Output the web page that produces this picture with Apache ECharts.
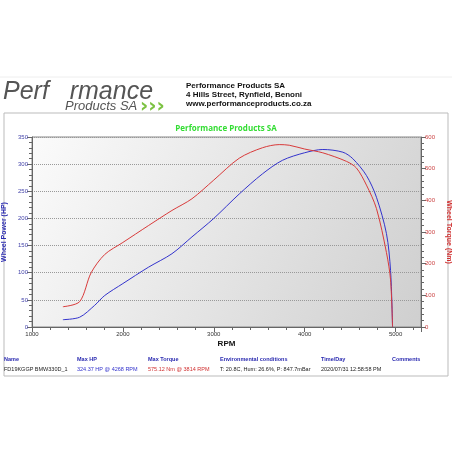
<!DOCTYPE html>
<html><head><meta charset="utf-8">
<script src="https://cdn.jsdelivr.net/npm/echarts@6/dist/echarts.min.js"></script>
<style>html,body{margin:0;padding:0;background:#fff}#c{width:452px;height:452px}</style>
</head><body><div id="c"></div>
<script>
const rpmHP=[1340,1524,1690,1800,2000,2280,2540,2760,3000,3280,3535,3755,4000,4200,4420,4530,4680,4790,4900,4945,4967];
const hp=[13.5,18,40,58,80,110,135,166,200,245,282,307,321,327,322,310,279,239,172,104,0];
const rpmTq=[1340,1524,1650,1800,2000,2280,2540,2760,3000,3280,3535,3720,3830,4000,4200,4460,4570,4680,4790,4900,4945,4967];
const tq=[64,80,171,229,267,320,368,405,464,533,566,576,574,562,550,523,502,448,374,235,149,0];
const tableHeads=['Name','Max HP','Max Torque','Environmental conditions','Time/Day','Comments'];
const tableVals=['FD19KGGP BMW330D_1','324.37 HP @ 4268 RPM','575.12 Nm @ 3814 RPM','T: 20.8C, Hum: 26.6%, P: 847.7mBar','2020/07/31 12:58:58 PM',''];
const colX=[4,77,148,220,321,392];
const valColors=['#222','#3333cc','#d03030','#222','#222','#222'];
const c=echarts.init(document.getElementById('c'));
const g=[
 {type:'rect',shape:{x:4,y:113,width:444,height:263},style:{fill:'none',stroke:'#bbb',lineWidth:1}},
 {type:'line',shape:{x1:0,y1:77,x2:452,y2:77},style:{stroke:'#eee'}},
 {type:'text',left:3,top:80,style:{text:'Perf   rmance',font:'italic 25px Liberation Sans',fill:'#555'}},
 {type:'text',left:65,top:100,style:{text:'Products SA',font:'italic 13px Liberation Sans',fill:'#555'}},
 {type:'text',left:140,top:97,style:{text:'›››',font:'bold 20px DejaVu Sans',fill:'#7cc242'}},
 {type:'text',left:186,top:81,style:{text:'Performance Products SA\n4 Hills Street, Rynfield, Benoni\nwww.performanceproducts.co.za',font:'bold 8px Liberation Sans',fill:'#111',lineHeight:9}},
];
tableHeads.forEach((h,i)=>{g.push({type:'text',left:colX[i],top:356,style:{text:h,font:'bold 5.5px Liberation Sans',fill:'#2a2ab0'}});
 g.push({type:'text',left:colX[i],top:366,style:{text:tableVals[i],font:'5.5px Liberation Sans',fill:valColors[i]}});});
c.setOption({
 animation:false,
 title:{text:'Performance Products SA',left:'center',top:120,textStyle:{color:'#33dd33',fontSize:8,fontWeight:'bold',fontFamily:'Open Sans'}},
 grid:{left:32,right:31,top:137,bottom:125,containLabel:false,outerBoundsMode:'none',show:true,borderColor:'#888',
  backgroundColor:new echarts.graphic.LinearGradient(0,0,1,1,[{offset:0,color:'#fbfbfb'},{offset:1,color:'#cfcfcf'}])},
 graphic:g,
 xAxis:{type:'value',min:1000,max:5280,interval:1000,name:'RPM',nameLocation:'middle',nameGap:13,
  nameTextStyle:{fontWeight:'bold',fontSize:8,color:'#111'},
  axisLine:{lineStyle:{color:'#666'}},axisTick:{lineStyle:{color:'#666'}},minorTick:{show:true,splitNumber:5},
  axisLabel:{fontSize:6,color:'#333',margin:4,formatter:v=>v%1000===0?v:''},splitLine:{show:false}},
 yAxis:[
  {type:'value',min:0,max:350,interval:50,name:'Wheel Power (HP)',nameLocation:'middle',nameGap:16,
   nameTextStyle:{color:'#2a2ab0',fontWeight:'bold',fontSize:7},
   axisLine:{show:true,lineStyle:{color:'#666'}},axisTick:{show:true},minorTick:{show:true,splitNumber:5},
   axisLabel:{fontSize:6,color:'#4444aa',margin:4},splitLine:{lineStyle:{type:'dotted',color:'#999'}}},
  {type:'value',min:0,max:600,interval:100,name:'Wheel Torque (Nm)',nameLocation:'middle',nameGap:16,nameRotate:-90,
   nameTextStyle:{color:'#d03030',fontWeight:'bold',fontSize:7},
   axisLine:{show:true,lineStyle:{color:'#666'}},axisTick:{show:true},minorTick:{show:true,splitNumber:5},
   axisLabel:{fontSize:6,color:'#cc4444',margin:4},splitLine:{show:false}}
 ],
 series:[
  {type:'line',yAxisIndex:0,smooth:0.3,showSymbol:false,data:rpmHP.map((x,i)=>[x,hp[i]]),lineStyle:{color:'#3333cc',width:1}},
  {type:'line',yAxisIndex:1,smooth:0.3,showSymbol:false,data:rpmTq.map((x,i)=>[x,tq[i]]),lineStyle:{color:'#d83a3a',width:1}}
 ]
});
</script></body></html>
